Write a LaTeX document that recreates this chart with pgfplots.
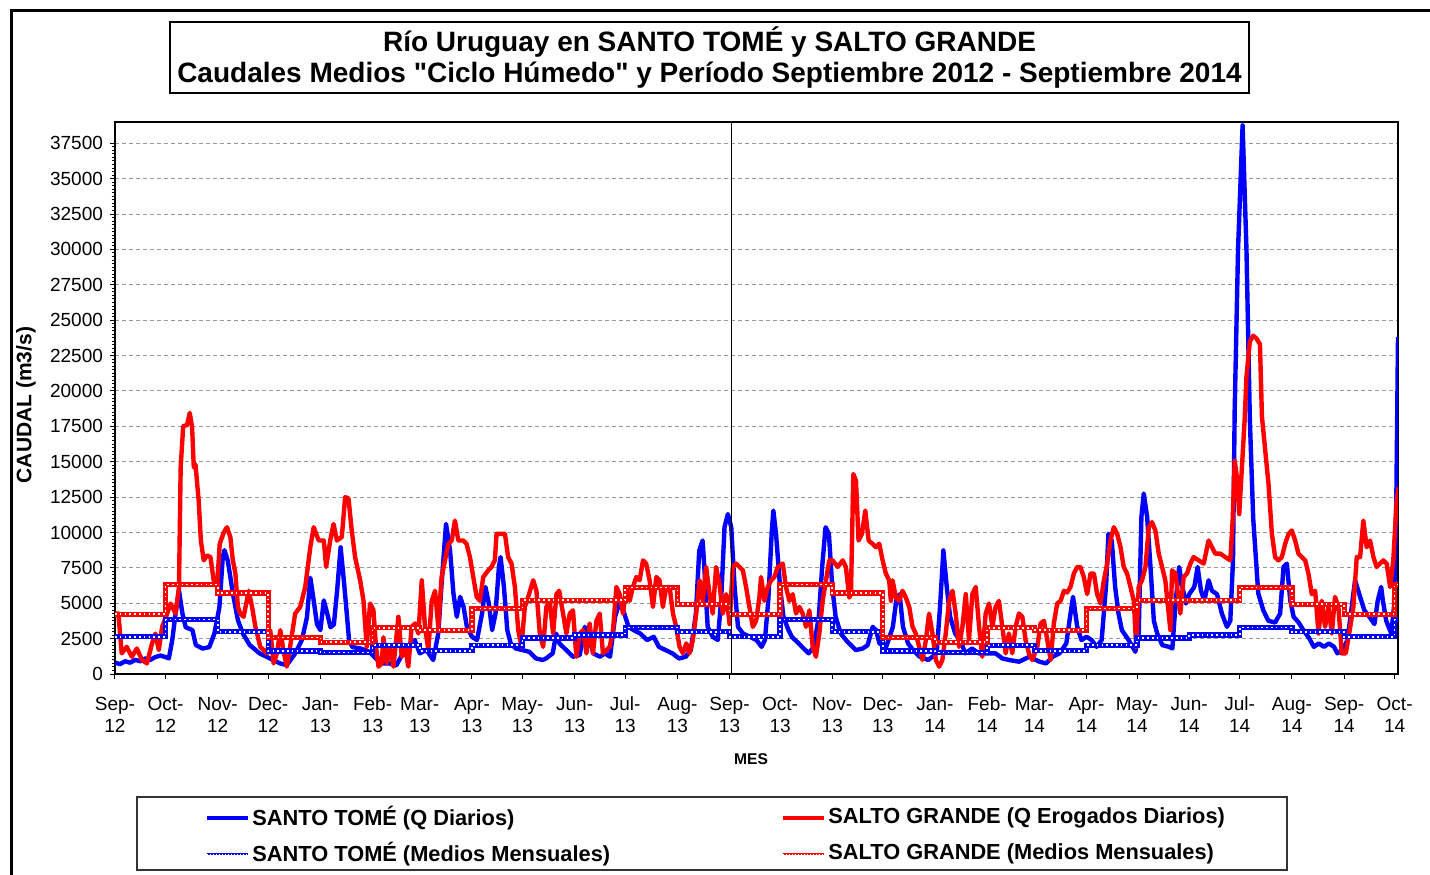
\documentclass[border=0pt]{standalone}
\usepackage{fontspec}
\setmainfont{Liberation Sans}[Ligatures=TeXOff]
\usepackage{pgfplots}
\pgfplotsset{compat=1.18}
\definecolor{stblue}{RGB}{0,0,255}
\definecolor{sgred}{RGB}{255,0,0}
\tikzset{monthly/.style={line width=2.6pt, color=#1, line join=miter, postaction={draw=white, line width=0.8pt, dash pattern=on 0.8pt off 1.6pt}}}
\begin{document}
\begin{tikzpicture}
\useasboundingbox (0,0) rectangle (715pt,437pt);
\draw[line width=1.5pt] (5.5pt,-5pt) -- (5.5pt,431.5pt) -- (720pt,431.5pt);
% title
\draw[line width=0.6pt] (85pt,390.5pt) rectangle (624.5pt,426pt);
\node[align=center, font=\fontsize{14pt}{15.5pt}\selectfont\bfseries] at (354.75pt,408.25pt)
 {Río Uruguay en SANTO TOMÉ y SALTO GRANDE\\Caudales Medios "Ciclo Húmedo" y Período Septiembre 2012 - Septiembre 2014};
\begin{axis}[
 at={(57.5pt,100pt)}, anchor=south west, scale only axis,
 width=641.5pt, height=276pt,
 xmin=0, xmax=762, ymin=0, ymax=39000,
 scaled y ticks=false,
 axis line style={line width=0.7pt},
 tick align=outside, tick pos=left,
 major tick length=2.5pt, minor tick length=1.5pt,
 every tick/.style={black, line width=0.5pt},
 xtick={0,30,61,91,122,153,181,212,242,273,303,334,365,395,426,456,487,518,546,577,607,638,668,699,730,760},
 xticklabels={Sep-\\12,Oct-\\12,Nov-\\12,Dec-\\12,Jan-\\13,Feb-\\13,Mar-\\13,Apr-\\13,May-\\13,Jun-\\13,Jul-\\13,Aug-\\13,Sep-\\13,Oct-\\13,Nov-\\13,Dec-\\13,Jan-\\14,Feb-\\14,Mar-\\14,Apr-\\14,May-\\14,Jun-\\14,Jul-\\14,Aug-\\14,Sep-\\14,Oct-\\14},
 xticklabel style={align=center, font=\fontsize{9.5pt}{11pt}\selectfont, yshift=-5.5pt},
 minor x tick num=4,
 ytick={0,2500,5000,7500,10000,12500,15000,17500,20000,22500,25000,27500,30000,32500,35000,37500},
 yticklabels={0,2500,5000,7500,10000,12500,15000,17500,20000,22500,25000,27500,30000,32500,35000,37500},
 yticklabel style={font=\fontsize{9.5pt}{11pt}\selectfont},
 minor y tick num=9,
 ymajorgrids, major grid style={dashed, gray!80, line width=0.5pt, dash pattern=on 2pt off 1.5pt},
 clip=true,
]
% Santo Tome daily
\addplot[stblue, line width=2.2pt, line join=round] coordinates {
(0,800)(3,700)(6,900)(9,800)(12,1000)(15,900)(18,1100)(21,1000)(24,1200)(27,1300)(30,1200)
(32,1100)(34,2400)(36,4300)(38,5900)(40,4300)(42,3300)(46,3100)(48,2050)(52,1800)(56,1900)
(59,2850)(62,4700)(64,8250)(65,8750)(67,8000)(70,5700)(73,3800)(76,2850)(80,2050)(86,1450)
(92,1100)(98,750)(102,630)(107,1450)(111,2400)(114,4000)(116,6800)(118,5200)(120,3500)(122,3100)
(124,5200)(126,4300)(128,3300)(130,3500)(132,6000)(134,8950)(136,6500)(138,3800)(139,2400)(141,1900)
(146,1800)(151,1570)(155,1100)(158,750)(163,750)(167,600)(171,1460)(176,2160)(178,2400)(181,1460)
(185,1690)(189,990)(192,2860)(194,6400)(196.6,10600)(199,8730)(201,5700)(203,4040)(205,5450)(207,4750)
(209,3330)(212,2630)(215,2400)(218,4270)(220,6150)(222,5000)(224,3100)(226,4270)(228,7560)(229,8260)
(231,6150)(233,3100)(235,2160)(238,1800)(242,1690)(246,1570)(250,1100)(254,990)(256,1100)(260,1460)
(262,2860)(264,2160)(268,1690)(272,1220)(276,1340)(279,3330)(281,2860)(284,1460)(288,1220)(291,1460)
(294,1220)(297,4040)(300,5200)(305,3330)(308,3100)(312,2860)(316,2400)(320,2630)(323,1920)(327,1690)
(331,1460)(335,1100)(339,1220)(342,1690)(345,4270)(347,8730)(349,9430)(350,7560)(352,3330)(355,2630)
(358,2400)(360,5200)(362,10370)(364,11300)(366,10370)(368,6150)(370,3330)(373,2860)(377,2630)(381,2400)
(384,1920)(386,2400)(388,5200)(390,9900)(391,11550)(392.6,9900)(395,6150)(397,4040)(400,3100)(402,2630)
(406,2160)(409,1800)(412,1460)(415,1920)(418,4040)(420,7560)(422,10370)(424,9900)(426,6150)(428,4040)
(431,2860)(435,2280)(440,1690)(444,1800)(447,2040)(450,3330)(452,3100)(454,2160)(458,1920)(462,3330)
(464,5200)(466,5640)(468,3330)(471,2160)(474,1690)(478,1220)(483,990)(488,1460)(490,4740)(492,8730)
(494,6150)(496,4040)(499,2860)(502,2400)(505,1460)(509,1800)(513,1460)(517,1460)(523,1460)(527,1100)
(531,990)(537,870)(543,1220)(549,870)(553,750)(557,1220)(561,1460)(565,2160)(567.5,4270)(569,5450)
(571.5,3330)(574,2400)(577,2630)(580,2400)(583,1920)(586,2400)(588.7,6400)(590,9900)(592,9430)(594,6150)
(596,4270)(598,3100)(602,2400)(606,1570)(608,2860)(609.6,11100)(611,12750)(613,11100)(615,7560)(617,3760)
(619,2860)(622,2040)(626,1920)(628,1800)(630,5200)(632,7560)(634,6150)(636,4980)(638,5640)(641,6150)
(643,7560)(645,5880)(647,5170)(649.5,6620)(651.5,5880)(654.5,5640)(657.4,4270)(660.4,3330)(662.4,3760)(664,8000)
(665,18600)(667,30000)(669.7,38760)(672,30000)(674,18000)(676,11000)(679,5700)(682,4500)(685,3760)(689,3640)
(692,4270)(694,7560)(696,7800)(698,5200)(700,4040)(703,3640)(706,3060)(709,2580)(712,1920)(715,2160)
(718,1920)(721,2160)(724,1920)(726,1460)(729,1690)(732,2400)(734.5,4740)(736.5,6620)(739.5,5450)(742,4500)
(745,4040)(748,3530)(750,5200)(752,6150)(753,5200)(755,3760)(758,2860)(759.6,4740)(761,12220)(762,23800)
};
% Salto Grande daily
\addplot[sgred, line width=2.2pt, line join=round] coordinates {
(0,4270)(2,4270)(4,1460)(7,1920)(10,1220)(13,1800)(16,990)(19,750)(22,2160)(24,2860)(26,1690)(28,3330)
(31,4270)(33,4980)(36,4270)(38,6150)(39,14600)(40.5,17500)(42.8,17600)(44.4,18450)(45.8,17400)(46.8,14600)
(47.8,14800)(49.7,12250)(51,9430)(52.7,8030)(54.7,8380)(56.7,8260)(58.6,6620)(60.6,6150)(62.2,9200)(64.6,10000)
(66.5,10370)(68.5,9670)(70,8030)(71.5,7100)(73,4740)(74.4,4270)(76.4,4040)(79.4,5880)(81.4,4740)(83.4,3330)
(86.3,1920)(90.3,1460)(92.2,3100)(94.2,750)(96.2,1460)(98.2,3100)(100,1690)(102,520)(104,1920)(107,4270)
(110,4740)(113,6150)(116,8960)(118,10370)(121,9430)(124,9430)(125.4,7560)(127.8,9430)(129.8,10600)(131.8,9430)
(134.7,9670)(136.7,12500)(138.7,12400)(140.6,10140)(142.6,8260)(145.6,6620)(147.6,5170)(149.5,1920)(151.5,4980)(153.5,4500)
(155,1920)(156.5,520)(158.4,750)(159.4,2600)(161.4,750)(163.4,1920)(165.4,520)(168.3,4040)(170.3,1220)(172.3,1920)
(174.2,520)(176.2,3330)(178.2,3570)(180.2,2860)(182.2,6620)(184.1,3330)(186.1,1690)(188.1,5170)(190.1,5880)(192,3330)
(194,6850)(196,8030)(198,9200)(200,9430)(201.9,10840)(203.9,9430)(206.9,9430)(208.8,9200)(210.8,8260)(212.8,6850)
(214.8,5450)(216.7,5170)(218.7,6850)(221.7,7330)(223.6,7560)(225.6,8030)(226.6,9900)(228.6,9900)(231.6,9900)(233.5,8260)
(235.5,7800)(237.5,6150)(239.5,3100)(241.4,1920)(243.4,4740)(245.4,5450)(248.4,6620)(250.3,5880)(252.3,2860)(254.3,1920)
(256.2,4740)(258.2,5170)(260.2,2860)(262.2,5640)(263.8,5880)(266.1,4270)(268.1,2860)(270.1,4270)(272,4500)(274,1220)
(276,2860)(278,3100)(280,1460)(281.9,3570)(283.9,1460)(285.9,3760)(287.9,4270)(289.8,1460)(291.8,1690)(293.8,1920)
(295.8,3100)(297.8,6150)(299.7,5640)(301.7,4270)(303.7,6150)(305.7,5170)(307.6,6150)(309.6,6850)(311.6,6620)(313.6,8030)
(315.5,7800)(317.5,6620)(319.5,4740)(321.5,6850)(323.4,6620)(325.4,4740)(327.4,6150)(329.4,6150)(331.4,4270)(333.3,3330)
(335.3,1920)(337.3,1460)(339.3,2160)(341.2,1460)(343.2,2400)(345.2,4270)(347.2,6620)(349.1,5170)(351.1,7560)(353.1,5640)
(355,4270)(357,7560)(359,6380)(361,4270)(363,5640)(365,3530)(366.9,7560)(368.9,7800)(370.9,7560)(372.9,7330)
(374.8,6150)(376.8,4740)(378.8,3330)(380.8,3760)(382.7,5400)(383.7,6850)(385.7,5170)(387.7,6150)(389.7,6620)(391.6,6850)
(393.6,7560)(396.6,7800)(398.5,6150)(400.5,5170)(402.5,5640)(404.5,4270)(406.5,4740)(408.4,4270)(410.4,3330)(412.4,4500)
(414.4,1920)(416.3,1220)(418.3,2860)(420.3,5170)(422.3,6620)(424.2,8030)(426.2,8030)(429.2,7560)(432.2,8030)(434.1,7560)
(436.1,5400)(437.1,5640)(438.5,14130)(440.1,13650)(441.6,9430)(443.6,9900)(445.6,11550)(447.6,9430)(449.9,9200)(451.9,8960)
(453.9,9200)(455.9,8030)(457.8,7100)(459.8,6620)(460.8,5170)(461.8,6620)(463.8,5400)(465.7,5170)(467.7,5880)(469.7,5400)
(471.7,4740)(473.7,3330)(475.6,2860)(477.6,1920)(479.6,990)(481.6,2400)(483.5,4270)(485.5,2860)(487.5,990)(489.5,520)
(491.4,990)(493.4,2860)(495.4,5170)(497.4,5880)(499.3,4270)(501.3,1920)(503.3,3330)(505.3,5640)(507.2,2400)(509.2,5640)
(511.2,6150)(513.2,3330)(515.1,1220)(517.1,4270)(519.1,4980)(521.1,3330)(523,4740)(525,5170)(527,3330)(529,1460)
(530.9,2860)(532.9,1460)(534.9,3330)(536.9,4270)(538.9,4040)(540.8,2400)(542.8,1460)(544.8,990)(547.8,1920)(549.7,3570)
(551.7,3760)(553.7,2400)(555.7,990)(557.6,3570)(559.6,4980)(561.6,5170)(563.6,5880)(565.5,5760)(567.5,6150)(569.5,7100)
(571.5,7560)(573.4,7560)(575.4,6850)(577.4,5640)(579.4,7100)(581.4,7100)(583.3,5640)(585.3,4980)(587.3,6620)(589.3,7800)
(591.2,9430)(593.2,10370)(595.2,9900)(597.2,8960)(599.1,7560)(601.1,7100)(603.1,6150)(605.1,5170)(606.5,1920)(608,6150)
(610,6620)(612,7560)(614,10370)(615.9,10730)(617.9,10140)(619.9,8500)(621.9,7560)(623.8,6620)(626.8,3100)(627.8,7330)
(629.8,7100)(632.7,4270)(634.7,6850)(636.7,7100)(638.7,7800)(640.6,8260)(643.6,8030)(646.6,7800)(649.5,9430)(651.5,8960)
(653.5,8500)(656.5,8500)(659.4,8260)(662.4,8030)(663.8,10840)(665,15070)(666.3,13900)(667.7,11300)(669.3,14600)(670.9,17900)
(672,21000)(674,23500)(676,23900)(678,23700)(680,23300)(681.2,18170)(683.1,15860)(685.1,13400)(687.1,9900)(689,8260)
(691,8030)(693,8260)(695,9200)(697,9900)(698.9,10140)(700.9,9430)(702.9,8500)(704.9,8260)(706.9,8030)(708.8,7100)
(710.8,5640)(712.8,5880)(714.8,2860)(716.7,5170)(718.7,3330)(720.7,4740)(722.7,2860)(724.6,5450)(726.6,4740)(728.6,1460)
(731,1460)(733,2860)(735.5,4740)(737.5,8260)(739.5,8260)(741.4,10840)(743.4,8960)(745.4,9430)(747.4,8260)(749.3,7560)
(751.3,7800)(753.3,8030)(755.3,7800)(757.3,6150)(759.2,8030)(761.2,12250)(762.4,13200)
};
% Santo Tome monthly means
\addplot[monthly=stblue, const plot] coordinates {
(0,2630)(30,3850)(61,2980)(91,1620)(122,1510)(153,2040)(181,1640)(212,2040)(242,2550)(273,2750)(303,3290)(334,2980)
(365,2630)(395,3850)(426,2980)(456,1620)(487,1510)(518,2040)(546,1640)(577,2040)(607,2550)(638,2750)(668,3290)(699,2980)
(730,2630)(760,3850)(762,3850)
};
% Salto Grande monthly means
\addplot[monthly=sgred, const plot] coordinates {
(0,4230)(30,6310)(61,5730)(91,2580)(122,2250)(153,3260)(181,3100)(212,4620)(242,5210)(273,5210)(303,6100)(334,4930)
(365,4230)(395,6310)(426,5730)(456,2580)(487,2250)(518,3260)(546,3100)(577,4620)(607,5210)(638,5210)(668,6100)(699,4930)
(730,4230)(760,6310)(762,6310)
};
% separator line at Sep-13
\addplot[black, line width=0.6pt] coordinates {(366,0)(366,39000)};
\end{axis}
% axis labels
\node[rotate=90, font=\fontsize{10.5pt}{12pt}\selectfont\bfseries] at (13pt,234.5pt) {CAUDAL (m3/s)};
\node[font=\fontsize{7.8pt}{9pt}\selectfont\bfseries] at (375.5pt,57.5pt) {MES};
% legend
\draw[line width=0.6pt, black!80] (68.5pt,2pt) rectangle (643.5pt,38.5pt);
\draw[stblue, line width=1.8pt] (103.5pt,28pt) -- (124pt,28pt);
\node[anchor=west, inner sep=0pt, font=\fontsize{10.9pt}{12pt}\selectfont\bfseries] at (126pt,28pt) {SANTO TOMÉ (Q Diarios)};
\draw[sgred, line width=1.8pt] (391.5pt,28pt) -- (412pt,28pt);
\node[anchor=west, inner sep=0pt, font=\fontsize{10.9pt}{12pt}\selectfont\bfseries] at (414pt,28pt) {SALTO GRANDE (Q Erogados Diarios)};
\draw[stblue, line width=1.4pt, postaction={draw=white, line width=0.5pt, dash pattern=on 0.6pt off 0.9pt}] (103.5pt,10pt) -- (124pt,10pt);
\node[anchor=west, inner sep=0pt, font=\fontsize{10.9pt}{12pt}\selectfont\bfseries] at (126pt,10pt) {SANTO TOMÉ (Medios Mensuales)};
\draw[sgred, line width=1.4pt, postaction={draw=white, line width=0.5pt, dash pattern=on 0.6pt off 0.9pt}] (391.5pt,10pt) -- (412pt,10pt);
\node[anchor=west, inner sep=0pt, font=\fontsize{10.9pt}{12pt}\selectfont\bfseries] at (414pt,10pt) {SALTO GRANDE (Medios Mensuales)};
\end{tikzpicture}
\end{document}
